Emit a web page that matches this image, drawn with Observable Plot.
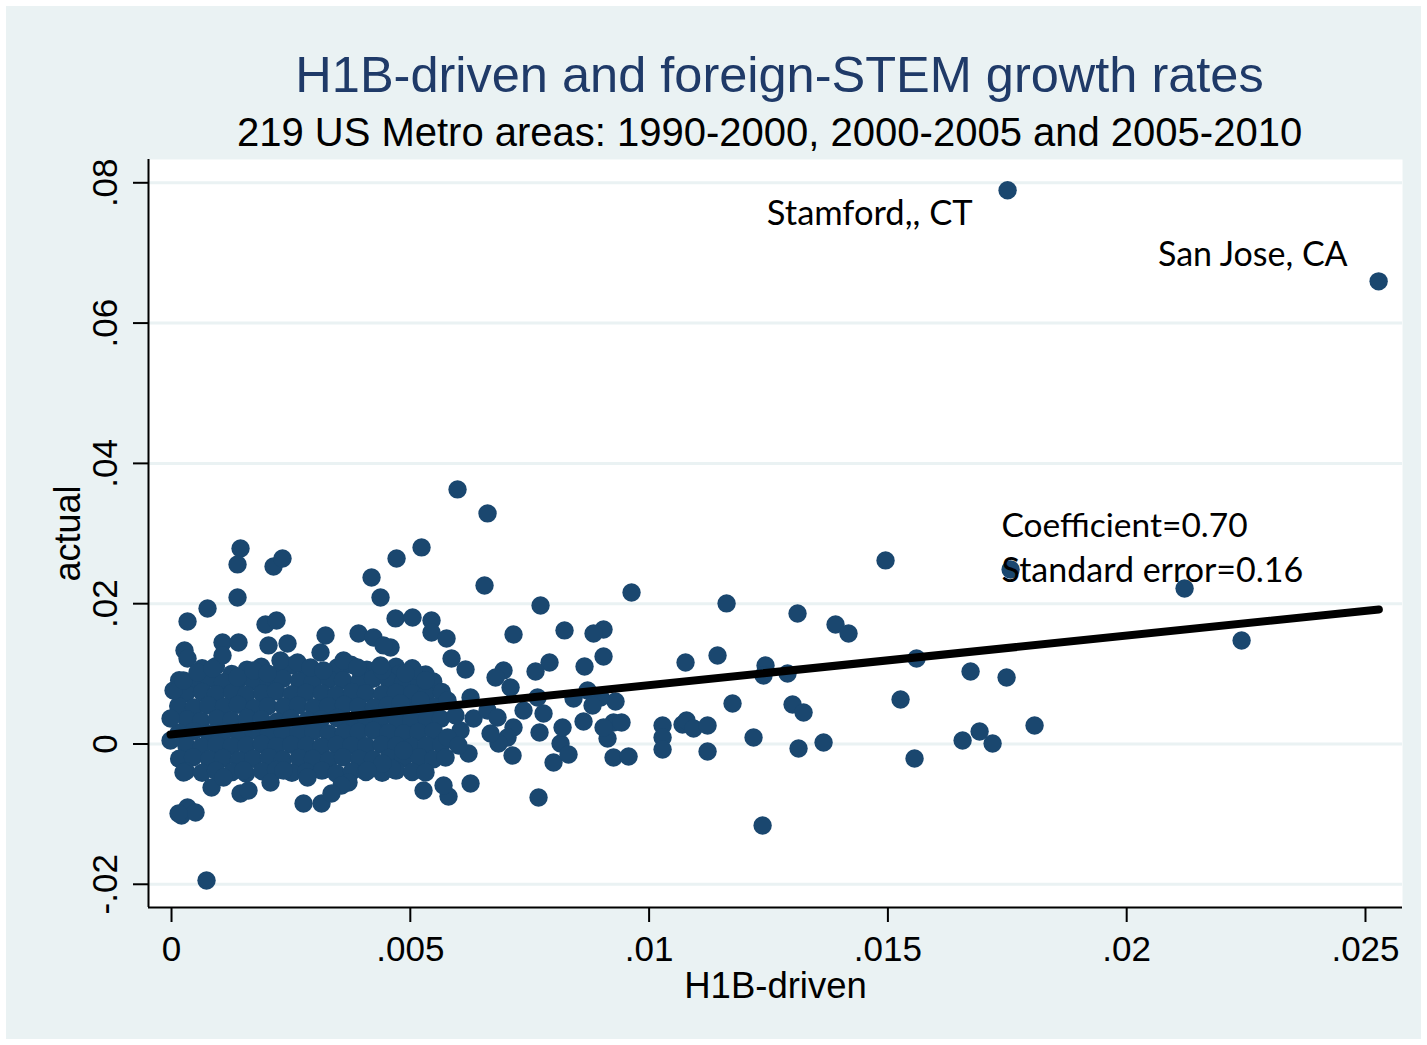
<!DOCTYPE html>
<html><head><meta charset="utf-8">
<script src="https://cdn.jsdelivr.net/npm/d3@7"></script>
<script src="https://cdn.jsdelivr.net/npm/@observablehq/plot@0.6"></script>
<style>
html,body{margin:0;padding:0;background:#fff;}
#wrap{position:relative;width:1427px;height:1045px;overflow:hidden;}
#panel{position:absolute;left:6px;top:6px;width:1415px;height:1033px;background:#EAF2F3;}
#chart{position:absolute;left:0;top:0;}
#chart g[aria-label$="axis tick"]{stroke-width:2px;}
</style></head><body>
<div id="wrap"><div id="panel"></div><div id="chart"></div></div>
<script>
// ---- text ----
const titleText = "H1B-driven and foreign-STEM growth rates";
const subtitleText = "219 US Metro areas: 1990-2000, 2000-2005 and 2005-2010";
const xLabel = "H1B-driven";
const yLabel = "actual";

// ---- axes ----
const xTickValues = [0, 0.005, 0.01, 0.015, 0.02, 0.025];
const xTickLabels = ["0", ".005", ".01", ".015", ".02", ".025"];
const yTickValues = [-0.02, 0, 0.02, 0.04, 0.06, 0.08];
const yTickLabels = ["-.02", "0", ".02", ".04", ".06", ".08"];
const xDomain = [-0.000482, 0.025775];
const yDomain = [-0.02331, 0.08332];

// ---- labelled metros ----
const labelNames = ["Stamford,, CT", "San Jose, CA"];
const labelX = [0.017506, 0.025275];
const labelY = [0.07893, 0.06595];

// ---- regression fit ----
const fitX = [-0.00002, 0.02528];
const fitY = [0.00134, 0.01917];
const statNames = ["Coefficient", "Standard error"];
const statValues = [0.70, 0.16];

// ---- other metro-period observations [H1B-driven, actual] ----
const sparsePoints = [
 [0.005989,0.03629],[0.006617,0.03287],[0.001445,0.02788],[0.001382,0.02560],[0.002136,0.02531],
 [0.002324,0.02645],[0.005235,0.02802],[0.004712,0.02645],[0.004188,0.02374],[0.004376,0.02089],
 [0.006554,0.02260],[0.001382,0.02089],[0.000754,0.01932],[0.000335,0.01747],[0.001968,0.01704],
 [0.002199,0.01761],[0.004691,0.01790],[0.005047,0.01804],[0.005444,0.01761],[0.005444,0.01590],
 [0.005759,0.01504],[0.005863,0.01219],[0.006156,0.01062],[0.007727,0.01975],[0.009632,0.02160],
 [0.011622,0.02004],[0.013108,0.01861],[0.013904,0.01704],[0.014176,0.01576],[0.014951,0.02617],
 [0.017569,0.02488],[0.021212,0.02217],[0.022406,0.01476],[0.009046,0.01633],[0.008837,0.01576],
 [0.008229,0.01619],[0.007161,0.01561],[0.009046,0.01248],[0.008648,0.01105],[0.007915,0.01162],
 [0.007622,0.01034],[0.006952,0.01048],[0.006785,0.00948],[0.007099,0.00806],[0.010763,0.01162],
 [0.011433,0.01262],[0.012438,0.01119],[0.012396,0.00977],[0.012899,0.01005],[0.015600,0.01219],
 [0.016731,0.01034],[0.017485,0.00948],[0.009297,0.00606],[0.008983,0.00663],[0.011747,0.00578],
 [0.013004,0.00563],[0.013234,0.00449],[0.015265,0.00635],[0.009255,0.00307],[0.009423,0.00307],
 [0.009130,0.00078],[0.009046,0.00235],[0.010282,0.00264],[0.010282,0.00093],[0.010282,-0.00078],
 [0.010700,0.00278],[0.010784,0.00335],[0.010931,0.00221],[0.011224,0.00264],[0.012187,0.00093],
 [0.011224,-0.00107],[0.009255,-0.00193],[0.009570,-0.00178],[0.013129,-0.00064],[0.013653,0.00021],
 [0.016564,0.00050],[0.016920,0.00178],[0.017192,0.00007],[0.018071,0.00264],[0.015558,-0.00207],
 [0.012376,-0.01162],[0.000733,-0.01946],[0.000209,-0.01020],[0.000335,-0.00906],[0.000503,-0.00977],
 [0.002764,-0.00848],[0.003141,-0.00848],[0.000838,-0.00620],[0.001445,-0.00706],[0.001612,-0.00663],
 [0.002073,-0.00549],[0.005277,-0.00663],[0.005800,-0.00749],[0.006261,-0.00563],[0.005696,-0.00592],
 [0.005319,-0.00406],[0.004607,-0.00349],[0.003706,-0.00549],[0.003560,-0.00592],[0.003350,-0.00706],
 [0.005738,-0.00193],[0.006219,-0.00135],[0.007685,-0.00763],[0.004418,-0.00278],[0.007999,-0.00264],
 [0.008146,0.00007],[0.008313,-0.00150],[0.008188,0.00235],[0.007706,0.00164],[0.007161,0.00235],
 [0.007036,0.00093],[0.007141,-0.00164],[0.006847,0.00007],[0.006680,0.00150],[0.008627,0.00321],
 [0.008418,0.00649],[0.008711,0.00763],[0.008816,0.00549],[0.007664,0.00663],[0.007790,0.00435],
 [0.007371,0.00478],[0.006324,0.00364],[0.006617,0.00478],[0.006826,0.00378],[0.006052,0.00193],
 [0.005779,0.00093],[0.005779,0.00620],[0.006261,0.00663],[0.005214,0.00620],[0.004795,0.00578],
 [0.005067,0.01048],[0.005319,0.00906],[0.004900,0.01005],[0.004418,0.01048],[0.004586,0.01376],
 [0.000272,0.01333],[0.000335,0.01219],[0.001068,0.01447],[0.001403,0.01447],[0.001068,0.01262],
 [0.002031,0.01405],[0.002429,0.01433],[0.003225,0.01547],[0.003120,0.01305],[0.003916,0.01576],
 [0.004230,0.01519],[0.004439,0.01405],[0.000042,0.00763],[-0.000021,0.00364],[-0.000021,0.00050],
 [0.000251,0.00906],[0.000544,0.01020],[0.000859,0.01077],[0.001382,0.00948],[0.001717,0.01048],
 [0.002010,0.01005],[0.002282,0.01191],[0.002638,0.01162],[0.002911,0.01091],[0.003183,0.01048],
 [0.003602,0.01191],[0.003895,0.01091],[0.004376,0.01119],[0.000251,-0.00406],[0.001089,-0.00478],
 [0.001508,-0.00378],[0.002345,-0.00378],[0.002848,-0.00478],[0.004104,-0.00378],[0.004858,-0.00093],
 [0.000147,-0.00991],[0.005947,0.00406],[0.006010,-0.00021]
];

// ---- overplotted core of the cloud (estimated) ----
const densePoints = [
 [0.00064,0.0108],[0.00093,0.0111],[0.00158,0.0106],[0.00188,0.0110],[0.00252,0.0112],[0.00282,0.0107],
 [0.00347,0.0109],[0.00376,0.0113],[0.00409,0.0106],[0.00470,0.0110],[0.00504,0.0108],
 [0.00126,0.0100],[0.00221,0.0099],[0.00312,0.0101],[0.00398,0.0098],[0.00478,0.0100],[0.00532,0.0099],
 [0.00016,0.0091],[0.00045,0.0089],[0.00079,0.0093],[0.00108,0.0088],[0.00141,0.0092],[0.00171,0.0090],
 [0.00204,0.0089],[0.00233,0.0093],[0.00267,0.0090],[0.00296,0.0088],[0.00330,0.0092],[0.00359,0.0091],
 [0.00393,0.0089],[0.00422,0.0093],[0.00455,0.0090],[0.00485,0.0088],[0.00518,0.0091],[0.00548,0.0089],
 [0.00030,0.0072],[0.00064,0.0074],[0.00093,0.0071],[0.00127,0.0073],[0.00156,0.0070],[0.00190,0.0072],
 [0.00219,0.0075],[0.00252,0.0071],[0.00282,0.0073],[0.00315,0.0072],[0.00345,0.0070],[0.00378,0.0074],
 [0.00407,0.0072],[0.00441,0.0071],[0.00470,0.0073],[0.00504,0.0072],[0.00533,0.0070],[0.00566,0.0074],
 [0.00014,0.0054],[0.00047,0.0052],[0.00077,0.0055],[0.00110,0.0053],[0.00139,0.0056],[0.00173,0.0051],
 [0.00202,0.0054],[0.00235,0.0053],[0.00265,0.0055],[0.00298,0.0052],[0.00328,0.0054],[0.00361,0.0056],
 [0.00391,0.0053],[0.00424,0.0052],[0.00453,0.0055],[0.00487,0.0054],[0.00516,0.0051],[0.00550,0.0053],
 [0.00032,0.0035],[0.00062,0.0033],[0.00095,0.0036],[0.00125,0.0034],[0.00158,0.0037],[0.00188,0.0035],
 [0.00221,0.0032],[0.00250,0.0036],[0.00284,0.0034],[0.00313,0.0035],[0.00347,0.0037],[0.00376,0.0033],
 [0.00409,0.0035],[0.00439,0.0036],[0.00472,0.0034],[0.00502,0.0033],[0.00535,0.0035],[0.00564,0.0036],
 [0.00015,0.0016],[0.00046,0.0018],[0.00078,0.0015],[0.00109,0.0017],[0.00141,0.0016],[0.00171,0.0019],
 [0.00204,0.0015],[0.00233,0.0017],[0.00266,0.0016],[0.00297,0.0018],[0.00329,0.0015],[0.00361,0.0016],
 [0.00392,0.0017],[0.00423,0.0019],[0.00454,0.0016],[0.00486,0.0015],[0.00517,0.0017],[0.00549,0.0018],
 [0.00031,-0.0002],[0.00063,-0.0004],[0.00094,-0.0001],[0.00126,-0.0003],[0.00157,-0.0002],[0.00189,0.0000],
 [0.00220,-0.0003],[0.00251,-0.0001],[0.00283,-0.0002],[0.00314,-0.0004],[0.00346,-0.0001],[0.00377,-0.0002],
 [0.00408,-0.0003],[0.00440,-0.0001],[0.00471,-0.0002],[0.00503,-0.0004],[0.00534,-0.0002],[0.00565,-0.0001],
 [0.00016,-0.0021],[0.00045,-0.0019],[0.00079,-0.0022],[0.00108,-0.0020],[0.00141,-0.0023],[0.00171,-0.0021],
 [0.00204,-0.0019],[0.00233,-0.0022],[0.00267,-0.0020],[0.00296,-0.0021],[0.00330,-0.0023],[0.00359,-0.0019],
 [0.00393,-0.0021],[0.00422,-0.0022],[0.00455,-0.0020],[0.00485,-0.0021],[0.00518,-0.0019],[0.00548,-0.0022],
 [0.00030,-0.0039],[0.00064,-0.0041],[0.00093,-0.0038],[0.00127,-0.0040],[0.00156,-0.0042],[0.00190,-0.0039],
 [0.00219,-0.0037],[0.00252,-0.0041],[0.00282,-0.0040],[0.00315,-0.0038],[0.00345,-0.0042],[0.00378,-0.0039],
 [0.00407,-0.0040],[0.00441,-0.0041],[0.00470,-0.0038],[0.00504,-0.0040]
];

// ---- build tables ----
const labelled = labelNames.map((name, i) => ({name, x: labelX[i], y: labelY[i]}));
const points = [...densePoints, ...sparsePoints].map(([x, y]) => ({x, y}))
  .concat(labelled.map(d => ({x: d.x, y: d.y})));
const fit = fitX.map((x, i) => ({x, y: fitY[i]}));
const stats = statNames.map((n, i) => `${n}=${statValues[i].toFixed(2)}`);

const navy = "#1A476F";
const sans = "'Liberation Sans', Arial, sans-serif";
const calibriLike = "Lato, 'Open Sans', sans-serif";

const chart = Plot.plot({
  width: 1427, height: 1045,
  marginLeft: 148, marginRight: 25, marginTop: 159, marginBottom: 138,
  style: {background: "transparent", fontFamily: sans, fontSize: "35px", color: "black", overflow: "visible"},
  x: {domain: xDomain, ticks: xTickValues, tickSize: 15, tickFormat: () => "", label: null},
  y: {domain: yDomain, ticks: yTickValues, tickSize: 15, tickFormat: () => "", label: null},
  marks: [
    Plot.frame({fill: "white", stroke: null}),
    Plot.ruleY(yTickValues, {stroke: "#EAF2F3", strokeWidth: 3}),
    Plot.ruleX([xDomain[0]], {stroke: "black", strokeWidth: 2}),
    Plot.ruleY([yDomain[0]], {stroke: "black", strokeWidth: 2}),
    Plot.dot(points, {x: "x", y: "y", r: 9.2, fill: navy, stroke: null}),
    Plot.line(fit, {x: "x", y: "y", stroke: "black", strokeWidth: 8, strokeLinecap: "round"}),
    Plot.text(labelled.slice(0, 1), {x: "x", y: "y", text: "name", textAnchor: "end", dx: -35, dy: 24,
      lineAnchor: "middle", fontFamily: calibriLike, fontSize: 34.5, fill: "black"}),
    Plot.text(labelled.slice(1, 2), {x: "x", y: "y", text: "name", textAnchor: "end", dx: -31, dy: -26,
      lineAnchor: "middle", fontFamily: calibriLike, fontSize: 34, fill: "black"}),
    Plot.text(stats.slice(0, 1), {text: d => d, frameAnchor: "top-left", dx: 853, dy: 367,
      textAnchor: "start", lineAnchor: "middle", fontFamily: calibriLike, fontSize: 33.5, fill: "black"}),
    Plot.text(stats.slice(1, 2), {text: d => d, frameAnchor: "top-left", dx: 853, dy: 412,
      textAnchor: "start", lineAnchor: "middle", fontFamily: calibriLike, fontSize: 34, fill: "black"}),
    Plot.text(yTickValues, {y: d => d, text: (d, i) => yTickLabels[i], frameAnchor: "left", dx: -43,
      rotate: -90, textAnchor: "middle", lineAnchor: "middle", fontSize: 35, fill: "black"}),
    Plot.text(xTickValues, {x: d => d, text: (d, i) => xTickLabels[i], frameAnchor: "bottom", dy: 42,
      textAnchor: "middle", lineAnchor: "middle", fontSize: 35, fill: "black"}),
    Plot.text([xLabel], {text: d => d, frameAnchor: "bottom", dy: 79, textAnchor: "middle", lineAnchor: "middle", fontSize: 36.5, fill: "black"}),
    Plot.text([yLabel], {text: d => d, frameAnchor: "left", dx: -80, rotate: -90, textAnchor: "middle", lineAnchor: "middle", fontSize: 36, fill: "black"}),
    Plot.text([titleText], {text: d => d, frameAnchor: "top", dx: 4, dy: -84, textAnchor: "middle", lineAnchor: "middle", fontSize: 50.5, fill: "#1F3A68"}),
    Plot.text([subtitleText], {text: d => d, frameAnchor: "top", dx: -6, dy: -26, textAnchor: "middle", lineAnchor: "middle", fontSize: 40, fill: "black"})
  ]
});
document.getElementById("chart").appendChild(chart);
</script>
</body></html>
